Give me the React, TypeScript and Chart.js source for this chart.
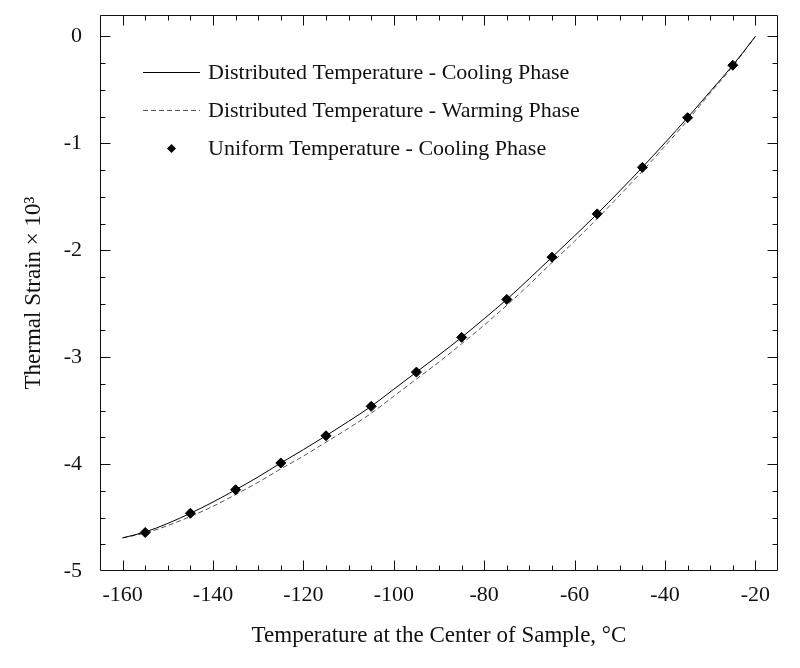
import { useEffect, useRef } from "react";
import { Chart, registerables } from "chart.js";

Chart.register(...registerables);

// ---------- data ----------
const tempGrid = [
  -160, -155, -150, -145, -140, -135, -130, -125, -120, -115, -110, -105, -100, -95, -90,
  -85, -80, -75, -70, -65, -60, -55, -50, -45, -40, -35, -30, -25, -20,
];
const coolingStrain = [
  -4.69, -4.635, -4.555, -4.46, -4.355, -4.24, -4.12, -3.99, -3.865, -3.735, -3.6, -3.46,
  -3.3, -3.14, -2.98, -2.815, -2.64, -2.46, -2.265, -2.065, -1.865, -1.66, -1.445, -1.225,
  -0.995, -0.76, -0.515, -0.27, 0.0,
];
const warmingStrain = [
  -4.69, -4.645, -4.575, -4.49, -4.395, -4.285, -4.17, -4.045, -3.925, -3.795, -3.665,
  -3.525, -3.365, -3.205, -3.045, -2.875, -2.7, -2.515, -2.32, -2.115, -1.915, -1.705,
  -1.485, -1.26, -1.025, -0.785, -0.53, -0.28, 0.0,
];
const uniformTemp = [-155, -145, -135, -125, -115, -105, -95, -85, -75, -65, -55, -45, -35, -25];
const uniformStrain = [
  -4.64, -4.46, -4.24, -3.99, -3.735, -3.46, -3.14, -2.815, -2.46, -2.065, -1.66, -1.225,
  -0.76, -0.27,
];
const seriesLabels = [
  "Distributed Temperature - Cooling Phase",
  "Distributed Temperature - Warming Phase",
  "Uniform Temperature - Cooling Phase",
];
const xTickValues = [-160, -140, -120, -100, -80, -60, -40, -20];
const xTickLabels = ["-160", "-140", "-120", "-100", "-80", "-60", "-40", "-20"];
const yTickValues = [-5, -4, -3, -2, -1, 0];
const yTickLabels = ["-5", "-4", "-3", "-2", "-1", "0"];
const xTitle = "Temperature at the Center of Sample, \u00B0C";
const yTitle = "Thermal Strain \u00D7 10\u00B3";

const FONT = '"Liberation Serif", "Times New Roman", serif';

const frameTicks = {
  id: "frameTicks",
  afterDraw(chart: any) {
    const { ctx, chartArea } = chart;
    const { left, right, top, bottom } = chartArea;
    const xs = chart.scales.x;
    const ys = chart.scales.y;
    const L = Math.round(left) + 0.5;
    const R = Math.round(right) - 0.5;
    const T = Math.round(top) + 0.5;
    const B = Math.round(bottom) - 0.5;
    ctx.save();
    ctx.strokeStyle = "#111";
    ctx.lineWidth = 1;
    ctx.beginPath();
    ctx.rect(L, T, R - L, B - T);
    // x ticks (top & bottom)
    for (let v = xs.min + 5; v < xs.max - 0.01; v += 5) {
      const major = Math.abs(v % 20) < 1e-6;
      const len = major ? 10 : 5;
      const px = Math.round(xs.getPixelForValue(v)) + 0.5;
      ctx.moveTo(px, B);
      ctx.lineTo(px, B - len);
      ctx.moveTo(px, T);
      ctx.lineTo(px, T + len);
    }
    // y ticks (left & right)
    for (let v = -5; v <= ys.max + 1e-6; v += 0.25) {
      if (v <= ys.min + 1e-6) continue;
      const major = Math.abs(v - Math.round(v)) < 1e-6;
      const len = major ? 10 : 5;
      const py = Math.round(ys.getPixelForValue(v)) + 0.5;
      ctx.moveTo(L, py);
      ctx.lineTo(L + len, py);
      ctx.moveTo(R, py);
      ctx.lineTo(R - len, py);
    }
    ctx.stroke();

    // legend inside the plot
    const rowY0 = top + 57;
    const rowGap = 38;
    const x0 = left + 43;
    const x1 = left + 100;
    const tx = left + 108;
    ctx.font = `22px ${FONT}`;
    ctx.fillStyle = "#111";
    ctx.textBaseline = "middle";
    ctx.textAlign = "left";
    seriesLabels.forEach((lab, i) => {
      const y = Math.round(rowY0 + i * rowGap) + 0.5;
      if (i === 0 || i === 1) {
        ctx.beginPath();
        ctx.strokeStyle = i === 0 ? "#000" : "#555";
        ctx.lineWidth = 1;
        ctx.setLineDash(i === 0 ? [] : [5, 3]);
        ctx.moveTo(x0, y);
        ctx.lineTo(x1, y);
        ctx.stroke();
        ctx.setLineDash([]);
      } else {
        const cx = (x0 + x1) / 2;
        const r = 4.5;
        ctx.beginPath();
        ctx.fillStyle = "#000";
        ctx.moveTo(cx - r, y);
        ctx.lineTo(cx, y - r);
        ctx.lineTo(cx + r, y);
        ctx.lineTo(cx, y + r);
        ctx.closePath();
        ctx.fill();
        ctx.fillStyle = "#111";
      }
      ctx.fillText(lab, tx, y + 1);
    });
    ctx.restore();
  },
};

export default function App() {
  const canvasRef = useRef<HTMLCanvasElement | null>(null);

  useEffect(() => {
    if (!canvasRef.current) return;
    Chart.defaults.font.family = FONT;
    const chart = new Chart(canvasRef.current, {
      type: "line",
      data: {
        datasets: [
          {
            label: seriesLabels[0],
            data: tempGrid.map((t, i) => ({ x: t, y: coolingStrain[i] })),
            borderColor: "#000",
            borderWidth: 1,
            pointRadius: 0,
            cubicInterpolationMode: "monotone",
            fill: false,
            order: 1,
          },
          {
            label: seriesLabels[1],
            data: tempGrid.map((t, i) => ({ x: t, y: warmingStrain[i] })),
            borderColor: "#555",
            borderWidth: 1,
            borderDash: [5, 3],
            pointRadius: 0,
            cubicInterpolationMode: "monotone",
            fill: false,
            order: 2,
          },
          {
            label: seriesLabels[2],
            data: uniformTemp.map((t, i) => ({ x: t, y: uniformStrain[i] })),
            showLine: false,
            pointStyle: "rectRot",
            pointRadius: 5,
            pointBackgroundColor: "#000",
            pointBorderColor: "#000",
            pointBorderWidth: 1,
            order: 0,
          },
        ],
      },
      options: {
        animation: false,
        responsive: false,
        maintainAspectRatio: false,
        layout: { padding: { left: 0, top: 15, right: 22, bottom: 0 } },
        plugins: {
          legend: { display: false },
          tooltip: { enabled: false },
        },
        scales: {
          x: {
            type: "linear",
            min: -165,
            max: -15,
            grid: { display: false, drawTicks: false },
            border: { display: false },
            afterBuildTicks: (s: any) => {
              s.ticks = xTickValues.map((v) => ({ value: v }));
            },
            afterFit: (s: any) => {
              s.height = 97;
              s.paddingLeft = 0;
              s.paddingRight = 0;
            },
            ticks: {
              color: "#111",
              padding: 11,
              maxRotation: 0,
              autoSkip: false,
              font: { size: 22, family: FONT },
              callback: (v: any) => {
                const i = xTickValues.indexOf(Number(v));
                return i >= 0 ? xTickLabels[i] : "";
              },
            },
            title: {
              display: true,
              text: xTitle,
              color: "#111",
              font: { size: 23, family: FONT },
              padding: { top: 0, bottom: 18 },
            },
          },
          y: {
            type: "linear",
            min: -5,
            max: 0.2,
            grid: { display: false, drawTicks: false },
            border: { display: false },
            afterBuildTicks: (s: any) => {
              s.ticks = yTickValues.map((v) => ({ value: v }));
            },
            afterFit: (s: any) => {
              s.width = 100;
              s.paddingTop = 0;
              s.paddingBottom = 0;
            },
            ticks: {
              color: "#111",
              padding: 18,
              autoSkip: false,
              font: { size: 22, family: FONT },
              callback: (v: any) => {
                const i = yTickValues.indexOf(Number(v));
                return i >= 0 ? yTickLabels[i] : "";
              },
            },
            title: {
              display: true,
              text: yTitle,
              color: "#111",
              font: { size: 23, family: FONT },
              padding: { top: 20, bottom: 0 },
            },
          },
        },
      },
      plugins: [frameTicks],
    });
    return () => chart.destroy();
  }, []);

  return (
    <div
      style={{
        position: "absolute",
        left: 0,
        top: 0,
        width: 800,
        height: 668,
        background: "#fff",
      }}
    >
      <canvas ref={canvasRef} width={800} height={668} />
    </div>
  );
}
